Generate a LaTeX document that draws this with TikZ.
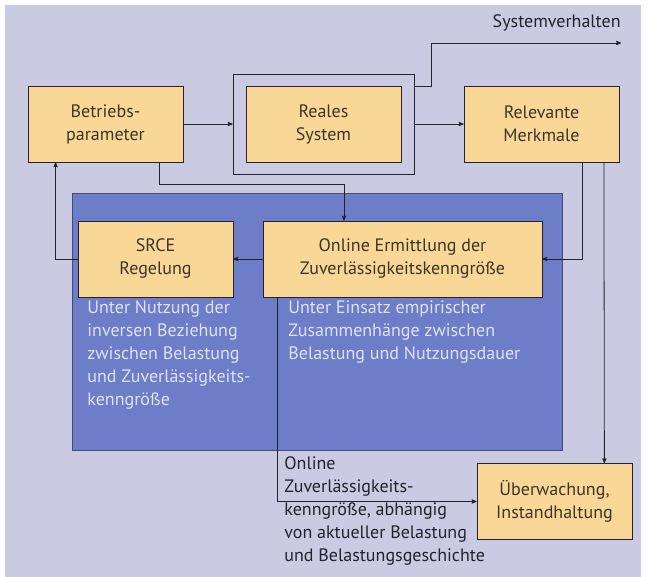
\documentclass[tikz,border=0pt]{standalone}
\usepackage{fontspec}
\setmainfont{PT Sans}
\usepackage{tikz}
\usepackage{xcolor}
\usetikzlibrary{arrows}

\definecolor{hintergrund}{RGB}{202,202,226}
\definecolor{panelblau}{RGB}{110,125,200}
\definecolor{boxgelb}{RGB}{249,215,150}
\definecolor{paneltext}{RGB}{222,226,248}
\definecolor{boxtext}{RGB}{62,52,42}
\definecolor{linie}{RGB}{35,35,45}

\begin{document}
\begin{tikzpicture}[>=stealth',x=1pt,y=-1pt,node distance=218pt,
                    line width=0.8pt,color=linie,
                    font=\fontsize{18}{23}\selectfont,
                    main node/.style={rectangle,draw=linie,fill=boxgelb,text=boxtext,
                      minimum width=155pt,minimum height=76pt,align=center},
                    note/.style={anchor=north west,align=left,inner sep=0pt}]

  % hintergrund und blaues feld
  \useasboundingbox (0,0) rectangle (649,577);
  \fill[hintergrund] (5,5) rectangle (641,577);
  \node[draw=panelblau!60!black,fill=panelblau,line width=0.6pt,inner sep=0pt,
        minimum width=490pt,minimum height=257pt] (panel) at (317,321.5) {};

  \node[main node] (param) at (105.5,124) {Betriebs-\\parameter};
  \node[main node] (system) [right of=param] {Reales\\System};
  \node[main node] (merkmale) [right of=system] {Relevante\\Merkmale};
  \node[draw,minimum width=181pt,minimum height=100pt] (rahmen) at (system) {};
  \node[main node] (srce) at (155.5,259) {SRCE\\Regelung};
  \node[main node,minimum width=279pt] (online) at (402.5,259) {Online Ermittlung der\\Zuverlässigkeitskenngröße};
  \node[main node] (wartung) at (554.5,501.5) {Überwachung,\\Instandhaltung};

  \node[note,text=paneltext] (srcetext) at (87,300) {Unter Nutzung der\\inversen Beziehung\\zwischen Belastung\\und Zuverlässigkeits-\\kenngröße};
  \node[note,text=paneltext] (onlinetext) at (288,300) {Unter Einsatz empirischer\\Zusammenhänge zwischen\\Belastung und Nutzungsdauer};
  \node[note] (kenntext) at (284,456) {Online\\Zuverlässigkeits-\\kenngröße, abhängig\\von aktueller Belastung\\und Belastungsgeschichte};

  \coordinate (sv) at (621,43);
  \node[anchor=base east,inner sep=0pt] (svtext) at ([yshift=15pt]sv) {Systemverhalten};

  \draw[->] (param) -- (rahmen);
  \draw[->] (rahmen) -- (merkmale);
  \draw[->] ([yshift=-13pt]rahmen.north east) -- ++(17,0) |- (sv);
  \draw[->] ([xshift=-24pt]param.south east) -- ++(0,22) -| ([xshift=-58.5pt]online.north);
  \draw[->] (online) -- (srce);
  \draw[->] (srce) -| ([xshift=28pt]param.south west);
  \draw[->] ([xshift=-37.5pt]merkmale.south east) |- (online);
  \draw[->] ([xshift=-15.5pt]merkmale.south east) -- ([xshift=-28pt]wartung.north east);
  \draw[->] ([xshift=15pt]online.south west) |- (wartung);
\end{tikzpicture}
\end{document}
